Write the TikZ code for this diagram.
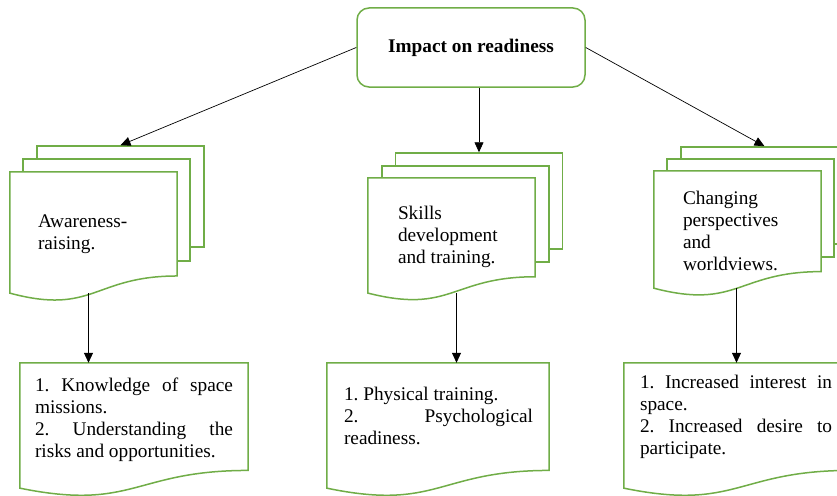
\documentclass[tikz,border=0pt]{standalone}
\usepackage{fontspec}
\setmainfont{Liberation Serif}
\usetikzlibrary{positioning,arrows.meta,calc}
\definecolor{sheetgreen}{HTML}{70AD47}

% outline of a document sheet (wavy bottom) laid over an empty node
\newcommand{\docsheet}[1]{%
  \draw[sheetline] (#1.north west) -- (#1.north east)
    -- ($(#1.north east)!0.802!(#1.south east)$)
    .. controls ($(#1.north)!0.802!(#1.south)$) and ($(#1.north)!1.107!(#1.south)$)
    .. ($(#1.north west)!0.934!(#1.south west)$) -- cycle;
  \coordinate (#1-foot) at ($(#1.north)!0.933!(#1.south)$);}

\begin{document}
\begin{tikzpicture}[x=1pt, y=-1pt,
  every node/.style={font=\fontsize{19.3}{22}\selectfont\frenchspacing},
  topbox/.style={draw=sheetgreen, line width=1.5pt, rounded corners=12pt, minimum width=228pt, minimum height=79pt},
  sheet/.style={draw=sheetgreen, line width=1.5pt, fill=white, minimum width=167pt, inner sep=0pt},
  docframe/.style={minimum width=167pt, inner sep=0pt},
  sheetline/.style={draw=sheetgreen, line width=1.5pt, fill=white},
  txt/.style={align=left, inner sep=0pt, anchor=north west},
  conn/.style={-{Triangle[length=10pt,width=9pt]}, line width=0.7pt}]
  \clip (0,0) rectangle (837,495);

  % top
  \node[topbox] (impact) at (471,47.5) {\bfseries Impact on readiness};

  % left stack
  \node[sheet, minimum height=101pt] (backA) at (120.5,196.5) {};
  \node[sheet, minimum height=102pt] (midA) at (106.5,210) {};
  \node[docframe, minimum height=129.5pt] (frontA) at (93.5,236.75) {};
  \docsheet{frontA}
  \node[txt] (txtA) at ([shift={(28pt,-43pt)}]frontA.north west) {Awareness-\\raising.};

  % middle stack
  \node[sheet, minimum height=96pt] (backB) at (479,201) {};
  \node[sheet, minimum height=96pt] (midB) at (465.5,214) {};
  \node[docframe, minimum height=123pt] (frontB) at (451.5,239.5) {};
  \docsheet{frontB}
  \node[txt] (txtB) at ([shift={(30pt,-28pt)}]frontB.north west) {Skills\\development\\and training.};

  % right stack
  \node[sheet, minimum height=97pt] (backC) at (764.5,195.5) {};
  \node[sheet, minimum height=98pt] (midC) at (750.5,208) {};
  \node[docframe, minimum height=125.3pt] (frontC) at (737.5,233.65) {};
  \docsheet{frontC}
  \node[txt] (txtC) at ([shift={(29pt,-20pt)}]frontC.north west) {Changing\\perspectives\\and\\worldviews.};

  % bottom boxes
  \node[docframe, minimum width=228pt, minimum height=133.8pt] (boxA) at (134,429.9) {};
  \docsheet{boxA}
  \node[txt, text width=198pt, align=justify] (listA) at ([shift={(15pt,-15pt)}]boxA.north west)
    {1. Knowledge of space\linebreak missions.\\2. Understanding the\linebreak risks and opportunities.};

  \node[docframe, minimum width=222pt, minimum height=133.8pt] (boxB) at (438,429.9) {};
  \docsheet{boxB}
  \node[txt, text width=189pt, align=justify] (listB) at ([shift={(17pt,-24pt)}]boxB.north west)
    {1. Physical training.\\2. Psychological\linebreak readiness.};

  \node[docframe, minimum width=226pt, minimum height=133.8pt] (boxC) at (737,429.9) {};
  \docsheet{boxC}
  \node[txt, text width=192pt, align=justify] (listC) at ([shift={(16pt,-12pt)}]boxC.north west)
    {1. Increased interest in\linebreak space.\\2. Increased desire to\linebreak participate.};

  % connectors
  \draw[conn] (impact.west) -- (backA.north);
  \draw[conn] (impact.south -| backB.north) -- (backB.north);
  \draw[conn] (impact.east) -- (backC.north);
  \draw[conn] ([xshift=-5pt]frontA-foot) -- ([xshift=-5pt]frontA-foot |- boxA.north);
  \draw[conn] ([xshift=5pt]frontB-foot) -- ([xshift=5pt]frontB-foot |- boxB.north);
  \draw[conn] ([xshift=-1pt]frontC-foot) -- ([xshift=-1pt]frontC-foot |- boxC.north);
\end{tikzpicture}
\end{document}
